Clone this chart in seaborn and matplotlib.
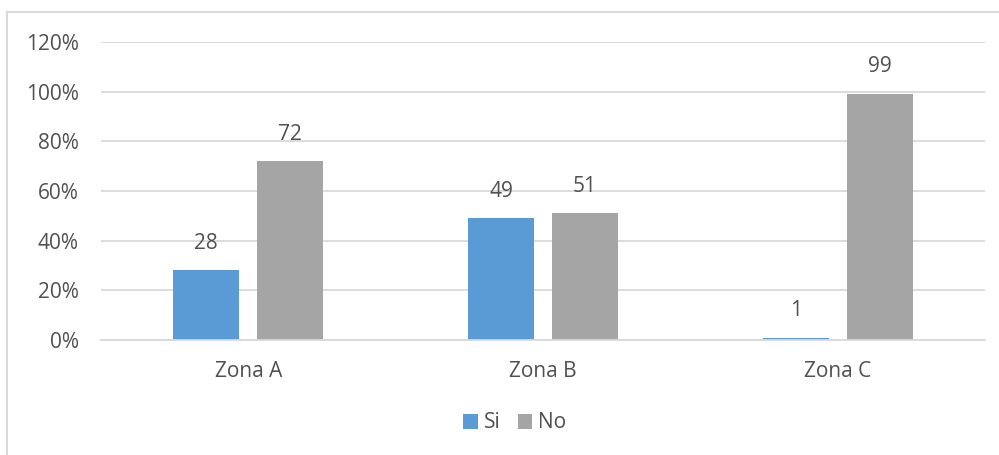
import pandas as pd
import matplotlib
matplotlib.use("Agg")
import matplotlib.pyplot as plt
import seaborn as sns
from matplotlib.patches import Rectangle
from matplotlib.ticker import FuncFormatter

zonas = ["Zona A", "Zona B", "Zona C"]
si = [28, 49, 1]
no = [72, 51, 99]
yticks = [0, 20, 40, 60, 80, 100, 120]

palette = {"Si": "#5B9BD5", "No": "#A5A5A5"}
txt = "#505050"
grid = "#D9D9D9"

df = pd.DataFrame({
    "zona": zonas * 2,
    "resp": ["Si"] * 3 + ["No"] * 3,
    "valor": [v / 100 for v in si + no],
})

sns.set_style("white")
plt.rcParams["font.family"] = ["Open Sans", "DejaVu Sans"]

fig = plt.figure(figsize=(9.99, 4.55), dpi=100)
ax = fig.add_axes([101 / 999, 1 - 340 / 455, 884 / 999, 298 / 455])

sns.barplot(data=df, x="zona", y="valor", hue="resp", hue_order=["Si", "No"],
            palette=palette, width=0.57, gap=0.214, saturation=1,
            edgecolor="none", ax=ax, legend=True)

for cont in ax.containers:
    ax.bar_label(cont, labels=[f"{round(b.get_height() * 100)}" for b in cont],
                 padding=12, fontsize=15, color=txt)

ax.set_ylim(0, 1.2)
ax.set_yticks([t / 100 for t in yticks])
ax.yaxis.set_major_formatter(FuncFormatter(lambda v, p: f"{v * 100:.0f}%"))
ax.grid(axis="y", color=grid, linewidth=1.3)
ax.set_axisbelow(True)
for s in ["left", "right", "top"]:
    ax.spines[s].set_visible(False)
ax.spines["bottom"].set_color(grid)
ax.spines["bottom"].set_linewidth(1.3)
ax.tick_params(axis="both", length=0, labelsize=15, colors=txt)
ax.tick_params(axis="y", pad=16)
ax.tick_params(axis="x", pad=15)
ax.set_xlabel("")
ax.set_ylabel("")

leg = ax.legend(loc="center", bbox_to_anchor=(515 / 999, 1 - 423 / 455),
                bbox_transform=fig.transFigure, ncol=2, frameon=False,
                fontsize=15, handlelength=0.7, handleheight=0.7,
                handletextpad=0.3, columnspacing=0.8, labelcolor=txt)

fig.patches.append(Rectangle((7 / 999, -0.1), 1.0, 1.1 - 12 / 455,
                             transform=fig.transFigure, fill=False,
                             edgecolor=grid, linewidth=1.5))

fig.savefig("out.png", dpi=100)
